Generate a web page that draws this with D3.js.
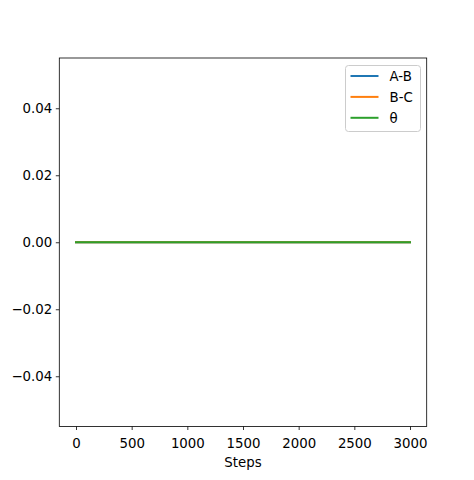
<!DOCTYPE html>
<html><head><meta charset="utf-8">
<script src="https://cdn.jsdelivr.net/npm/d3@7"></script>
<style>body{margin:0;background:#fff}svg{display:block;font-family:"DejaVu Sans",sans-serif}</style>
</head><body><svg id="c" width="474" height="480"></svg>
<script>
const steps = [0, 500, 1000, 1500, 2000, 2500, 3000];
const seriesNames = ["A-B", "B-C", "θ"];
const abValues = [0, 0, 0, 0, 0, 0, 0];
const bcValues = [0, 0, 0, 0, 0, 0, 0];
const thetaValues = [0, 0, 0, 0, 0, 0, 0];
const colors = ["#1f77b4", "#ff7f0e", "#2ca02c"];
const xTicks = [0, 500, 1000, 1500, 2000, 2500, 3000];
const yTicks = [-0.04, -0.02, 0.00, 0.02, 0.04];
const xLabel = "Steps";

const svg = d3.select("#c");
const L = 59.3, R = 426.7, T = 58, B = 426.5;
const x = d3.scaleLinear().domain([-150, 3150]).range([L, R]);
const y = d3.scaleLinear().domain([-0.055, 0.055]).range([B, T]);

const fmtY = v => (v < 0 ? "\u2212" : "") + Math.abs(v).toFixed(2);

const xAxis = svg.append("g").attr("transform", `translate(0,${B})`)
  .call(d3.axisBottom(x).tickValues(xTicks).tickSize(3.5).tickPadding(3.5).tickFormat(d3.format("d")));
const yAxis = svg.append("g").attr("transform", `translate(${L},0)`)
  .call(d3.axisLeft(y).tickValues(yTicks).tickSize(3.5).tickPadding(3.5).tickFormat(fmtY));
[xAxis, yAxis].forEach(g => {
  g.select(".domain").remove();
  g.selectAll("line").attr("stroke", "#000").attr("stroke-width", 0.8);
  g.selectAll("text").attr("fill", "#000").style("font-size", "13.33px").style("font-family", "DejaVu Sans");
});
xAxis.selectAll("text").attr("dy", null).attr("y", 0).attr("dominant-baseline", null)
  .attr("transform", "translate(0,448)").attr("y", 0);
xAxis.selectAll(".tick text").attr("transform", null).attr("y", 21.5);

const series = [abValues, bcValues, thetaValues];
const line = d3.line().x((d, i) => x(steps[i])).y(d => y(d));
series.forEach((vals, k) => {
  svg.append("path").datum(vals).attr("d", line)
    .attr("fill", "none").attr("stroke", colors[k]).attr("stroke-width", 2)
    .attr("stroke-linecap", "square");
});

svg.append("rect").attr("x", L).attr("y", T).attr("width", R - L).attr("height", B - T)
  .attr("fill", "none").attr("stroke", "#000").attr("stroke-width", 0.8);

svg.append("text").attr("x", (L + R) / 2).attr("y", 467).attr("text-anchor", "middle")
  .style("font-size", "13.33px").text(xLabel);

// legend
const lg = svg.append("g");
lg.append("rect").attr("x", 345.5).attr("y", 65.5).attr("width", 75).attr("height", 66)
  .attr("rx", 3).attr("fill", "#fff").attr("fill-opacity", 0.8).attr("stroke", "#cccccc").attr("stroke-width", 1);
seriesNames.forEach((n, k) => {
  const yy = 76 + k * 20.9;
  lg.append("line").attr("x1", 350.5).attr("x2", 378.5).attr("y1", yy).attr("y2", yy)
    .attr("stroke", colors[k]).attr("stroke-width", 2);
  lg.append("text").attr("x", 389.5).attr("y", yy + 4.8).style("font-size", "13.33px").text(n);
});
</script></body></html>
